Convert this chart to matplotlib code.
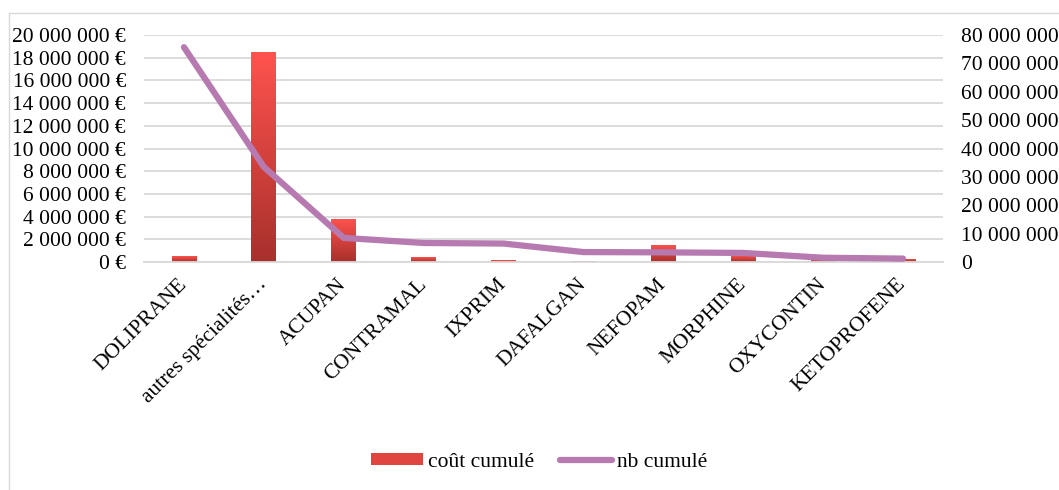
import numpy as np
import matplotlib.pyplot as plt
from matplotlib.colors import LinearSegmentedColormap
from matplotlib.lines import Line2D
from matplotlib.patches import Patch, Rectangle

plt.rcParams['font.family'] = ['Liberation Serif', 'DejaVu Serif']

# Données
produits = ["DOLIPRANE", "autres spécialités…", "ACUPAN", "CONTRAMAL", "IXPRIM",
            "DAFALGAN", "NEFOPAM", "MORPHINE", "OXYCONTIN", "KETOPROFENE"]
cout_cumule = [500000, 18500000, 3800000, 400000, 150000,
               50000, 1500000, 600000, 200000, 300000]
nb_cumule = [75700000, 33500000, 8500000, 6700000, 6500000,
             3500000, 3400000, 3200000, 1500000, 1200000]

def fmt_space(v):
    return f"{int(v):,}".replace(",", " ")

fs = 15.5
fig = plt.figure(figsize=(10.59, 4.90), dpi=100)
ax = fig.add_axes([144/1059, 1-262/490, 799/1059, 227/490])
ax2 = ax.twinx()

x = np.arange(len(produits))
bars = ax.bar(x, cout_cumule, width=0.31, color="#E0463F", zorder=2)

# dégradé vertical dans les barres
cmap = LinearSegmentedColormap.from_list("rouge", ["#A8302C", "#FF534E"])
grad = np.linspace(0, 1, 256).reshape(-1, 1)
for b in bars:
    x0, y0, w, h = b.get_x(), b.get_y(), b.get_width(), b.get_height()
    b.set_facecolor("none")
    im = ax.imshow(grad, cmap=cmap, aspect="auto", origin="lower",
                   extent=[x0, x0 + w, y0, y0 + h], zorder=2)
    clip = Rectangle((x0, y0), w, h, transform=ax.transData)
    im.set_clip_path(clip)

ax.set_xlim(-0.5, len(produits) - 0.5)
ax.set_ylim(0, 20000000)
ax.set_yticks(np.arange(0, 20000001, 2000000))
ax.set_yticklabels([fmt_space(v) + " €" for v in np.arange(0, 20000001, 2000000)])
ax.grid(axis="y", color="#D9D9D9", linewidth=1.3, zorder=0)
ax.set_axisbelow(True)

ax2.plot(x, nb_cumule, color="#B77AB0", linewidth=4.5, solid_capstyle="round", zorder=3)
ax2.set_ylim(0, 80000000)
ax2.set_yticks(np.arange(0, 80000001, 10000000))
ax2.set_yticklabels([fmt_space(v) for v in np.arange(0, 80000001, 10000000)])

for a in (ax, ax2):
    for s in a.spines.values():
        s.set_visible(False)
    a.tick_params(axis="y", length=0, labelsize=fs, pad=13)
ax.spines["bottom"].set_visible(True)
ax.spines["bottom"].set_color("#D9D9D9")
ax.spines["bottom"].set_linewidth(1.3)

ax.set_xticks(x)
ax.set_xticklabels(produits, rotation=45, ha="right", va="center",
                   rotation_mode="anchor", fontsize=fs)
ax.tick_params(axis="x", length=0, pad=14)

handles = [Patch(facecolor="#E0463F", edgecolor="none", label="coût cumulé"),
           Line2D([0], [0], color="#B77AB0", linewidth=4.5, solid_capstyle="round", label="nb cumulé")]
fig.legend(handles=handles, loc="center", bbox_to_anchor=(0.5 + 10/1059, 1-462/490), ncol=2,
           frameon=False, fontsize=fs, handlelength=2.4, handleheight=0.5,
           columnspacing=1.2, handletextpad=0.25)

# cadre du graphique (coupé à droite et en bas)
fig.add_artist(Line2D([9/1059, 9/1059], [0, 1-13/490], transform=fig.transFigure,
                      color="#D9D9D9", linewidth=1))
fig.add_artist(Line2D([9/1059, 1], [1-13/490, 1-13/490], transform=fig.transFigure,
                      color="#D9D9D9", linewidth=1))

plt.savefig("out.png", dpi=100)
